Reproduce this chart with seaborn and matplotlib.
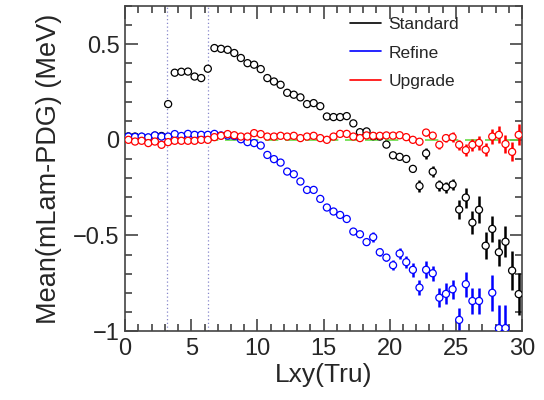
import numpy as np
import pandas as pd
import seaborn as sns
import matplotlib.pyplot as plt
from matplotlib.lines import Line2D
from matplotlib.ticker import MultipleLocator, FuncFormatter

# bin centres, 0.5 wide bins from 0 to 30
lxy = np.arange(0.25, 30, 0.5)

standard = [0.018, 0.017, 0.015, 0.010, 0.022, 0.020, 0.187, 0.351, 0.356, 0.357,
            0.331, 0.323, 0.372, 0.480, 0.476, 0.471, 0.454, 0.428, 0.401, 0.393,
            0.370, 0.323, 0.305, 0.288, 0.246, 0.236, 0.222, 0.187, 0.192, 0.176,
            0.122, 0.119, 0.119, 0.124, 0.086, 0.040, 0.044, 0.019, 0.017, -0.025,
            -0.081, -0.089, -0.100, -0.152, -0.242, -0.071, -0.167, -0.238, -0.248, -0.234,
            -0.365, -0.302, -0.433, -0.366, -0.554, -0.466, -0.588, -0.533, -0.684, -0.807]
standard_err = [0.005] * 30 + [0.008] * 10 + [
    0.015, 0.015, 0.016, 0.018, 0.030, 0.030, 0.030, 0.030, 0.030, 0.030,
    0.050, 0.052, 0.060, 0.070, 0.070, 0.070, 0.070, 0.080, 0.100, 0.110]

refine = [0.017, 0.015, 0.017, 0.013, 0.023, 0.017, 0.017, 0.030, 0.020, 0.031,
          0.026, 0.026, 0.026, 0.031, 0.023, 0.022, 0.020, 0.003, -0.012, -0.017,
          -0.030, -0.079, -0.101, -0.119, -0.166, -0.180, -0.218, -0.262, -0.262, -0.309,
          -0.354, -0.375, -0.393, -0.414, -0.480, -0.494, -0.535, -0.509, -0.588, -0.616,
          -0.656, -0.595, -0.640, -0.680, -0.773, -0.680, -0.698, -0.826, -0.806, -0.782,
          -0.942, -0.755, -0.843, -0.843, -1.150, -0.800, -0.985, -0.985, -1.150, -1.150]
refine_err = [0.005] * 34 + [
    0.010, 0.010, 0.017, 0.025, 0.020, 0.020,
    0.027, 0.027, 0.030, 0.035, 0.040, 0.045, 0.040, 0.050, 0.055, 0.050,
    0.060, 0.065, 0.070, 0.070, 0.080, 0.095, 0.120, 0.120, 0.100, 0.100]

upgrade = [0.000, -0.009, -0.005, -0.017, -0.009, -0.026, -0.012, -0.005, -0.005, -0.005,
           -0.005, 0.000, 0.000, 0.014, 0.021, 0.030, 0.024, 0.017, 0.017, 0.035,
           0.030, 0.017, 0.017, 0.021, 0.017, 0.021, 0.009, 0.017, 0.021, 0.009,
           0.000, 0.017, 0.031, 0.031, 0.017, 0.009, 0.023, 0.021, 0.021, 0.023,
           0.022, 0.024, 0.014, 0.000, -0.010, 0.038, 0.022, -0.026, 0.009, 0.014,
           -0.026, -0.054, -0.026, -0.016, -0.052, 0.017, 0.026, -0.022, -0.063, 0.026]
upgrade_err = [0.005] * 40 + [
    0.012, 0.012, 0.010, 0.012, 0.015, 0.020, 0.020, 0.020, 0.020, 0.025,
    0.025, 0.030, 0.030, 0.035, 0.035, 0.040, 0.045, 0.045, 0.050, 0.055]

names = ["Standard", "Refine", "Upgrade"]
colors = {"Standard": "black", "Refine": "#0000ff", "Upgrade": "#ff0000"}
cut_lines = [3.14, 6.28]

df = pd.concat([
    pd.DataFrame({"lxy": lxy, "mean": standard, "err": standard_err, "set": "Standard"}),
    pd.DataFrame({"lxy": lxy, "mean": refine, "err": refine_err, "set": "Refine"}),
    pd.DataFrame({"lxy": lxy, "mean": upgrade, "err": upgrade_err, "set": "Upgrade"}),
])

sns.set_style("ticks")
plt.rcParams['font.family'] = ['Liberation Sans', 'DejaVu Sans']
plt.rcParams['axes.unicode_minus'] = True

fig = plt.figure(figsize=(5.44, 4.0), dpi=100)
ax = fig.add_axes([0.230, 0.1725, 0.7296, 0.8125])

ax.axhline(0, color="#66dd44", lw=1.2, ls=(0, (8, 4)), zorder=1)
for xc in cut_lines:
    ax.axvline(xc, color="#8888cc", lw=0.9, ls=(0, (1, 2)), zorder=1)

for name in names:
    sub = df[df["set"] == name]
    ax.errorbar(sub["lxy"], sub["mean"], yerr=sub["err"], fmt="none",
                ecolor=colors[name], elinewidth=1.8, capsize=0, zorder=2)

sns.scatterplot(data=df, x="lxy", y="mean", hue="set", palette=colors,
                marker="o", s=26, linewidth=0.9, legend=False, ax=ax, zorder=3)
for coll in ax.collections:
    fc = coll.get_facecolors()
    if len(fc):
        coll.set_edgecolors(fc)
        coll.set_facecolors("white")

ax.set_xlim(0, 30)
ax.set_ylim(-1, 0.7)
ax.xaxis.set_major_locator(MultipleLocator(5))
ax.xaxis.set_minor_locator(MultipleLocator(1))
ax.yaxis.set_major_locator(MultipleLocator(0.5))
ax.yaxis.set_minor_locator(MultipleLocator(0.1))
ax.yaxis.set_major_formatter(FuncFormatter(lambda v, p: f"{v:g}".replace("-", "\u2212")))
ax.xaxis.set_major_formatter(FuncFormatter(lambda v, p: f"{v:g}"))

ax.tick_params(which="both", direction="in", top=True, right=True,
               labelsize=17, color="#444444")
ax.tick_params(which="major", length=9, width=1.2)
ax.tick_params(which="minor", length=5, width=1.2)
ax.tick_params(axis="x", pad=5)
ax.tick_params(axis="y", pad=4)
for sp in ax.spines.values():
    sp.set_color("#444444")
    sp.set_linewidth(1.2)

ax.set_xlabel("Lxy(Tru)", fontsize=19, labelpad=2)
ax.set_ylabel("Mean(mLam-PDG) (MeV)", fontsize=19.5, labelpad=8)

handles = [Line2D([0], [0], color=colors[n], lw=1.2) for n in names]
ax.legend(handles, names, loc="upper left", bbox_to_anchor=(0.535, 1.003),
          frameon=False, fontsize=12.5, handlelength=1.8, handletextpad=0.45,
          labelspacing=0.75, borderpad=0.2)

fig.savefig("out.png", dpi=100)
